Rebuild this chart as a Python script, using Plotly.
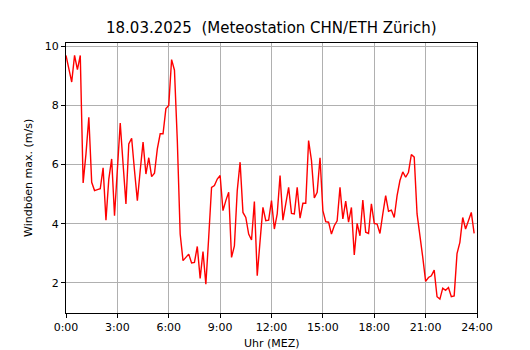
import plotly.graph_objects as go

# 10-minute maximum gusts, 0:00 .. 23:50 (hours)
step_minutes = 10
gust_values = [
    9.69, 9.25, 8.79, 9.69, 9.21, 9.69, 5.38, 6.36, 7.60, 5.40,
    5.12, 5.15, 5.18, 5.89, 4.12, 5.51, 6.19, 4.27, 5.68, 7.40,
    6.02, 4.67, 6.70, 6.89, 5.80, 4.78, 5.80, 6.76, 5.68, 6.23,
    5.59, 5.71, 6.53, 7.04, 7.04, 7.89, 8.00, 9.55, 9.19, 6.81,
    3.65, 2.75, 2.86, 2.97, 2.67, 2.69, 3.23, 2.15, 3.06, 1.95,
    3.54, 5.23, 5.29, 5.51, 5.63, 4.44, 4.78, 5.06, 2.86, 3.25,
    5.12, 6.08, 4.38, 4.21, 3.65, 3.45, 4.75, 2.24, 3.42, 4.55,
    4.10, 4.12, 4.78, 3.82, 4.33, 5.63, 4.12, 4.67, 5.23, 4.35,
    4.33, 5.23, 4.19, 4.69, 4.69, 6.81, 6.14, 4.87, 5.06, 6.23,
    4.44, 4.07, 4.05, 3.65, 3.93, 4.10, 5.23, 4.16, 4.76, 4.05,
    4.55, 2.94, 4.01, 3.59, 4.80, 3.71, 3.67, 4.67, 4.01, 3.99,
    3.67, 4.33, 4.95, 4.42, 4.46, 4.21, 4.95, 5.46, 5.75, 5.57,
    5.74, 6.34, 6.25, 4.33, 3.65, 2.86, 2.05, 2.18, 2.24, 2.43,
    1.53, 1.45, 1.82, 1.75, 1.84, 1.53, 1.56, 2.99, 3.37, 4.21,
    3.82, 4.10, 4.38, 3.67,
]
hours = [i * step_minutes / 60 for i in range(len(gust_values))]

tick_hours = [0, 3, 6, 9, 12, 15, 18, 21, 24]
tick_labels = ["0:00", "3:00", "6:00", "9:00", "12:00", "15:00", "18:00", "21:00", "24:00"]
y_ticks = [2, 4, 6, 8, 10]

title_text = "18.03.2025  (Meteostation CHN/ETH Zürich)"
x_title = "Uhr (MEZ)"
y_title = "Windböen max. (m/s)"

font = "DejaVu Sans"
W, H = 530, 350
L, R, T, B = 66, 53, 43, 37
PW, PH = W - L - R, H - T - B

fig = go.Figure()
fig.add_trace(go.Scatter(
    x=hours, y=gust_values, mode="lines",
    line=dict(color="#ff0000", width=1.4),
    hoverinfo="skip", showlegend=False,
))

axis_common = dict(
    showline=True, linecolor="black", linewidth=1, mirror=True,
    ticks="outside", ticklen=4, tickwidth=1, tickcolor="black",
    showgrid=True, gridcolor="#b0b0b0", gridwidth=1,
    zeroline=False, automargin=False,
    tickfont=dict(family=font, size=11, color="black"),
)

fig.update_xaxes(range=[0, 24], tickvals=tick_hours, ticktext=tick_labels, **axis_common)
fig.update_yaxes(range=[0.98, 10.11], tickvals=y_ticks, **axis_common)

fig.update_layout(
    width=W, height=H,
    margin=dict(l=L, r=R, t=T, b=B, pad=0, autoexpand=False),
    paper_bgcolor="white", plot_bgcolor="white",
    font=dict(family=font, color="black"),
    annotations=[
        dict(text=title_text, x=0.5, y=1 + (T - 28) / PH,
             xref="paper", yref="paper", showarrow=False,
             xanchor="center", yanchor="middle",
             font=dict(family=font, size=15, color="black")),
        dict(text=x_title, x=0.5, y=-(344 - (H - B)) / PH,
             xref="paper", yref="paper", showarrow=False,
             xanchor="center", yanchor="middle",
             font=dict(family=font, size=11, color="black")),
        dict(text=y_title, x=-(L - 28) / PW, y=0.5,
             xref="paper", yref="paper", showarrow=False, textangle=-90,
             xanchor="center", yanchor="middle",
             font=dict(family=font, size=11, color="black")),
    ],
)

fig.write_html(
    "out.html",
    config={"displayModeBar": False},
    post_script="document.body.style.margin='0';document.body.style.overflow='hidden';",
)
